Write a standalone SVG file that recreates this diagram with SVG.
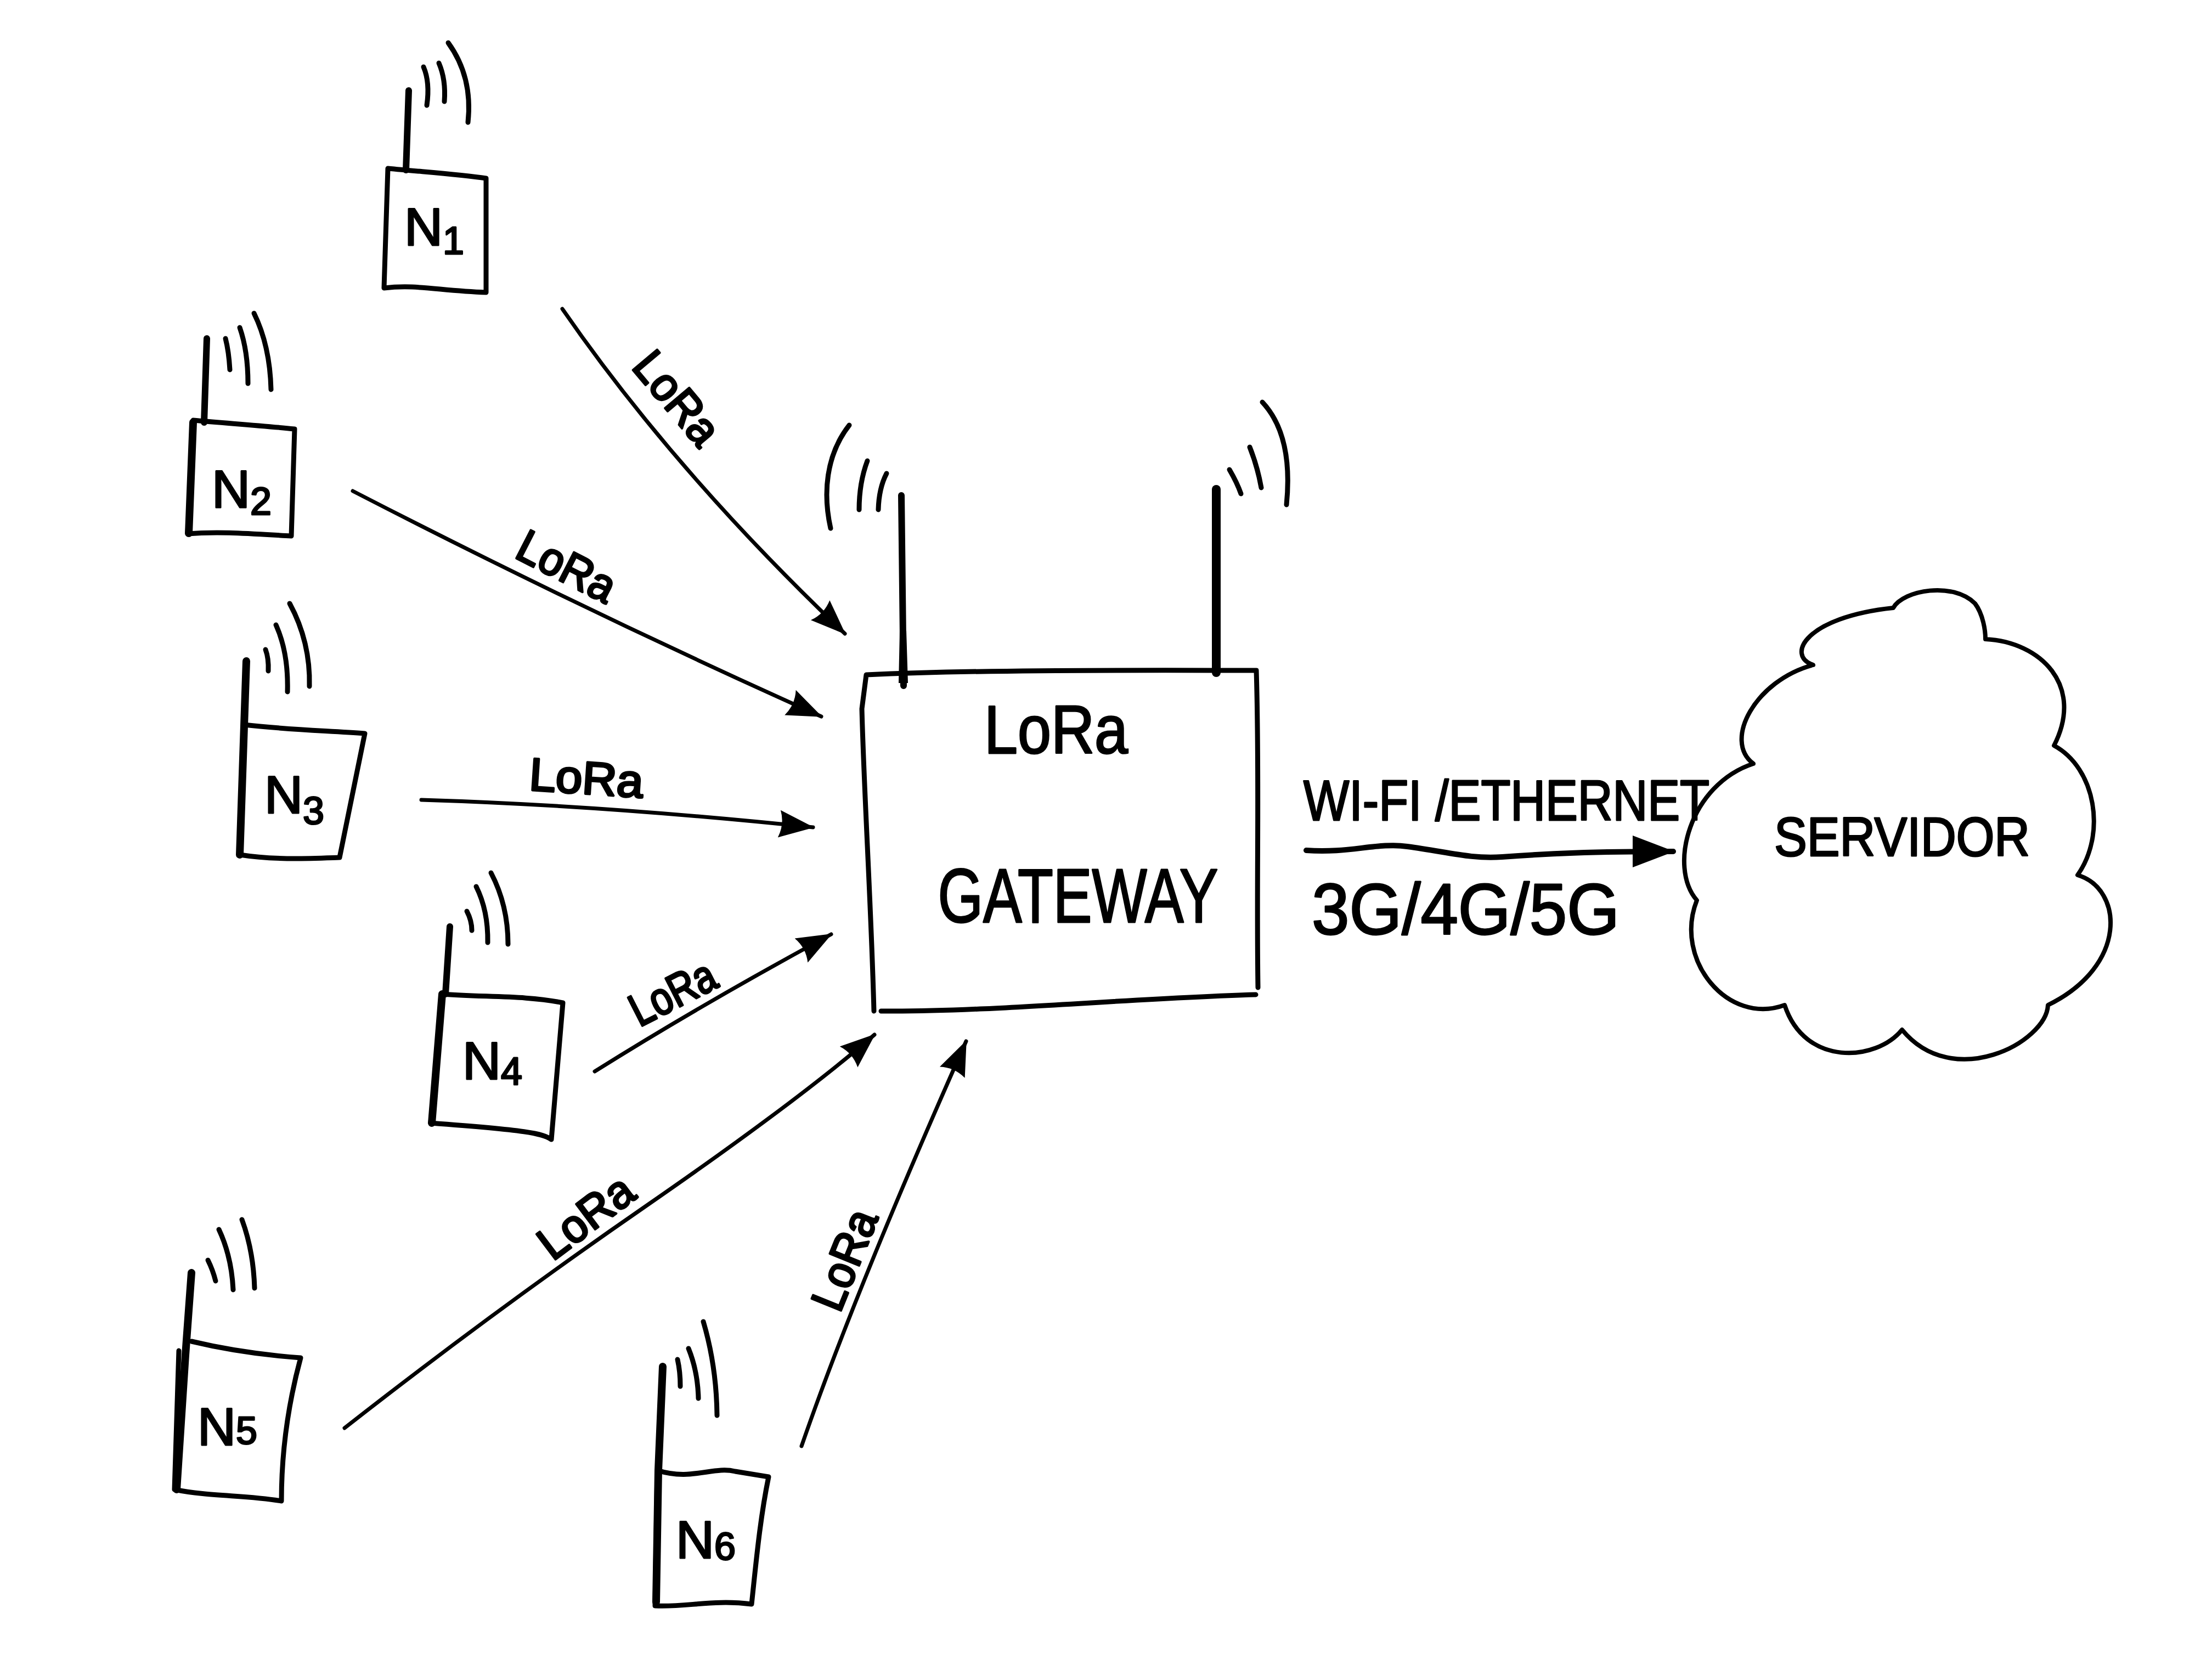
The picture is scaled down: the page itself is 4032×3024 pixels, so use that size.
<svg xmlns="http://www.w3.org/2000/svg" width="4032" height="3024" viewBox="0 0 4032 3024">
<style>
.bx{fill:none;stroke:#000;stroke-width:9;stroke-linejoin:round;stroke-linecap:round}
.ant{fill:none;stroke:#000;stroke-width:12;stroke-linecap:round}
.thk{fill:none;stroke:#000;stroke-width:14;stroke-linecap:round}
.wv{fill:none;stroke:#000;stroke-width:9;stroke-linecap:round}
.cn{fill:none;stroke:#000;stroke-width:7;stroke-linecap:round;stroke-linejoin:round}
.cl{fill:none;stroke:#000;stroke-width:8;stroke-linejoin:round}
text{font-family:"Liberation Sans",Arial,sans-serif;fill:#000;stroke:#000;stroke-width:3;stroke-linejoin:round}
.nt{font-size:97px}
.sub{font-size:70px}
.lb{font-size:84px;text-anchor:middle;stroke-width:4}
.big{text-anchor:middle}
</style>
<defs>
<marker id="ah" markerUnits="userSpaceOnUse" markerWidth="64" markerHeight="56" viewBox="0 0 64 56" refX="62" refY="28" orient="auto"><path d="M0,3 L64,28 L0,53 Q10,28 0,3 Z" fill="#000"/></marker>
<marker id="ahw" markerUnits="userSpaceOnUse" markerWidth="76" markerHeight="62" viewBox="0 0 76 62" refX="74" refY="31" orient="auto"><path d="M0,2 L76,31 L0,60 Z" fill="#000"/></marker>
</defs>
<rect width="4032" height="3024" fill="#fff"/>

<g id="connectors">
<path class="cn" d="M1025,563 Q1230,860 1540,1155" marker-end="url(#ah)"/>
<path class="cn" d="M643,895 Q1060,1110 1497,1306" marker-end="url(#ah)"/>
<path class="cn" d="M768,1458 Q1100,1468 1482,1508" marker-end="url(#ah)"/>
<path class="cn" d="M1084,1953 Q1280,1830 1515,1703" marker-end="url(#ah)"/>
<path class="cn" d="M628,2603 Q900,2390 1175,2200 T1594,1886" marker-end="url(#ah)"/>
<path class="cn" d="M1461,2636 Q1560,2350 1761,1898" marker-end="url(#ah)"/>
<path class="cn" style="stroke-width:10" d="M2381,1550 C2460,1556 2510,1535 2565,1543 C2640,1553 2680,1566 2738,1562 C2820,1556 2900,1552 3050,1552" marker-end="url(#ahw)"/>
<g id="connector-labels">
<text class="lb" transform="translate(1212,744) rotate(50)" textLength="195" lengthAdjust="spacingAndGlyphs">LoRa</text>
<text class="lb" transform="translate(1020,1058) rotate(27)" textLength="190" lengthAdjust="spacingAndGlyphs">LoRa</text>
<text class="lb" transform="translate(1067,1447) rotate(3.8)" textLength="208" lengthAdjust="spacingAndGlyphs">LoRa</text>
<text class="lb" transform="translate(1239,1835) rotate(-27)" textLength="165" lengthAdjust="spacingAndGlyphs">LoRa</text>
<text class="lb" transform="translate(1085,2241) rotate(-37)" textLength="195" lengthAdjust="spacingAndGlyphs">LoRa</text>
<text class="lb" transform="translate(1566,2307) rotate(-68)" textLength="190" lengthAdjust="spacingAndGlyphs">LoRa</text>
<text x="2376" y="1495" style="font-size:104px" textLength="740" lengthAdjust="spacingAndGlyphs">WI-FI /ETHERNET</text>
<text x="2391" y="1703" style="font-size:132px" textLength="561" lengthAdjust="spacingAndGlyphs">3G/4G/5G</text>
</g>
</g>

<g id="n1">
<path class="bx" d="M707,307 C780,314 840,318 886,325 L886,533 C800,530 760,518 700,525 Z"/>
<path class="ant" d="M745,165 L740,310"/>
<path class="wv" d="M772,122 Q784,150 778,192"/>
<path class="wv" d="M800,115 Q813,145 810,185"/>
<path class="wv" d="M817,78 Q862,140 853,223"/>
<text class="nt" x="737" y="447">N<tspan class="sub" dy="16">1</tspan></text>
</g>

<g id="n2">
<path class="bx" d="M352,766 C420,772 480,776 537,782 L531,977 C460,973 400,968 342,973 Z"/>
<path class="ant" d="M377,617 L372,770"/>
<path class="thk" d="M352,770 L344,972"/>
<path class="wv" d="M411,617 Q417,640 419,674"/>
<path class="wv" d="M437,597 Q452,640 452,699"/>
<path class="wv" d="M463,571 Q492,630 494,710"/>
<text class="nt" x="386" y="925">N<tspan class="sub" dy="13">2</tspan></text>
</g>

<g id="n3">
<path class="bx" d="M445,1321 C520,1330 600,1332 665,1337 L619,1563 C560,1565 500,1568 437,1558 Z"/>
<path class="thk" d="M449,1205 L437,1558"/>
<path class="wv" d="M484,1184 Q490,1200 489,1223"/>
<path class="wv" d="M503,1139 Q526,1190 524,1261"/>
<path class="wv" d="M528,1100 Q566,1170 564,1251"/>
<text class="nt" x="482" y="1482">N<tspan class="sub" dy="20">3</tspan></text>
</g>

<g id="n4">
<path class="bx" d="M806,1812 C880,1818 960,1814 1026,1828 L1005,2077 C990,2066 960,2060 785,2047 Z"/>
<path class="ant" d="M820,1689 L812,1812"/>
<path class="thk" d="M806,1812 L787,2047"/>
<path class="wv" d="M851,1661 Q860,1678 860,1696"/>
<path class="wv" d="M868,1616 Q890,1660 889,1718"/>
<path class="wv" d="M895,1591 Q926,1650 926,1721"/>
<text class="nt" x="843" y="1967">N<tspan class="sub" dy="10">4</tspan></text>
</g>

<g id="n5">
<path class="bx" d="M349,2445 C420,2462 480,2470 548,2475 C525,2560 513,2650 513,2736 C450,2725 380,2728 318,2715 L326,2462"/>
<path class="thk" d="M349,2320 L338,2470 L322,2715"/>
<path class="wv" d="M379,2297 Q388,2315 393,2335"/>
<path class="wv" d="M399,2241 Q422,2290 425,2351"/>
<path class="wv" d="M441,2223 Q462,2280 464,2348"/>
<text class="nt" x="360" y="2634">N<tspan class="sub" dy="-2">5</tspan></text>
</g>

<g id="n6">
<path class="bx" d="M1198,2680 C1260,2700 1300,2672 1340,2682 L1401,2692 C1385,2770 1378,2850 1370,2924 C1300,2915 1250,2930 1194,2927 Z"/>
<path class="thk" d="M1208,2491 L1200,2680 L1196,2920"/>
<path class="wv" d="M1235,2478 Q1240,2500 1240,2527"/>
<path class="wv" d="M1255,2458 Q1272,2500 1273,2549"/>
<path class="wv" d="M1282,2409 Q1306,2490 1307,2580"/>
<text class="nt" x="1232" y="2840">N<tspan class="sub" dy="3">6</tspan></text>
</g>

<g id="gateway">
<path class="bx" d="M1579,1230 C1800,1220 2100,1222 2290,1222 C2296,1420 2290,1600 2293,1800 M2289,1813 C2050,1820 1800,1845 1606,1843 M1593,1843 C1588,1650 1575,1450 1571,1292 L1579,1230"/>
<path class="ant" d="M1643,903 L1647,1250"/>
<path d="M1640,1150 L1652,1150 L1655,1245 L1638,1245 Z" fill="#000"/>
<path class="ant" style="stroke-width:16" d="M2217,892 L2217,1226"/>
<path class="wv" d="M1548,775 C1505,830 1500,900 1514,963"/>
<path class="wv" d="M1581,840 Q1566,880 1566,929"/>
<path class="wv" d="M1616,863 Q1602,890 1601,929"/>
<path class="wv" d="M2241,856 Q2255,880 2262,900"/>
<path class="wv" d="M2278,815 Q2292,850 2299,889"/>
<path class="wv" d="M2301,733 C2345,780 2352,850 2345,920"/>
<text class="big" x="1925" y="1373" style="font-size:125px" textLength="262" lengthAdjust="spacingAndGlyphs">LoRa</text>
<text class="big" x="1965" y="1681" style="font-size:140px" textLength="511" lengthAdjust="spacingAndGlyphs">GATEWAY</text>
</g>

<g id="servidor">
<path class="cl" d="M3305,1212 C3255,1195 3290,1125 3451,1108 C3470,1075 3560,1060 3600,1100 C3615,1120 3619,1150 3619,1165 C3720,1170 3800,1250 3744,1359 C3820,1400 3840,1520 3787,1595 C3870,1620 3880,1760 3733,1832 C3730,1900 3560,1990 3467,1877 C3420,1935 3290,1945 3253,1832 C3150,1870 3050,1750 3093,1641 C3040,1580 3080,1430 3196,1392 C3140,1350 3200,1240 3305,1212 Z"/>
<text x="3234" y="1560" style="font-size:100px" textLength="466" lengthAdjust="spacingAndGlyphs">SERVIDOR</text>
</g>
</svg>
